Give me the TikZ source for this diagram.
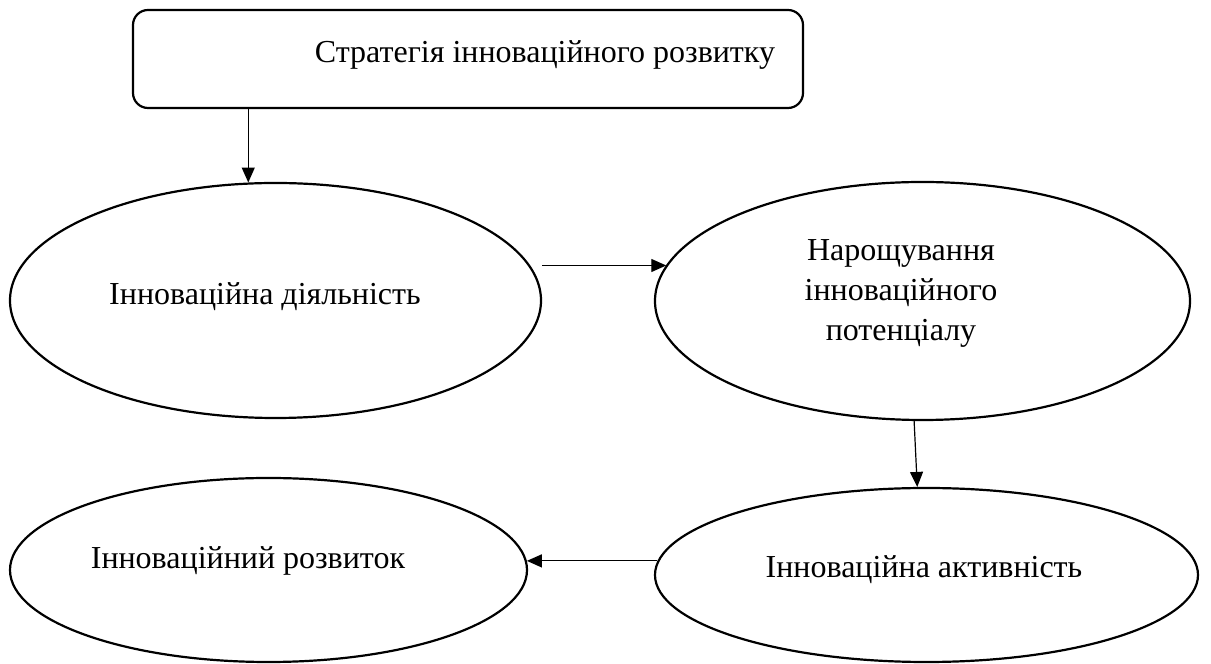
\documentclass[tikz,border=0pt]{standalone}
\usepackage{fontspec}
\setmainfont{Liberation Serif}
\usetikzlibrary{shapes.geometric,arrows.meta}
\begin{document}
\begin{tikzpicture}[x=1pt,y=1pt,
  oval/.style={draw, ellipse, line width=2.2pt, inner sep=0pt},
  frame/.style={draw, rounded corners=15pt, line width=2.2pt, inner sep=0pt},
  lbl/.style={font=\fontsize{32}{40}\selectfont, inner sep=0pt, align=center},
  link/.style={line width=1.2pt, -{Triangle[length=15pt,width=13pt]}},
]
\useasboundingbox (0,0) rectangle (1211,664);

% top box
\node[frame, minimum width=670pt, minimum height=98pt] (top) at (468,605) {};
\node[lbl, anchor=base] (ttop) at (545,601) {Стратегія інноваційного розвитку};

% ovals
\node[oval, minimum width=531pt, minimum height=235pt] (e1) at (275.5,363.5) {};
\node[oval, minimum width=535pt, minimum height=238pt] (e2) at (922.5,363) {};
\node[oval, minimum width=543pt, minimum height=174pt] (e3) at (926.5,89) {};
\node[oval, minimum width=517pt, minimum height=184pt] (e4) at (268.5,94) {};

\node[lbl, anchor=base] (t1) at (265,359) {Інноваційна діяльність};
\node[lbl] (t2) at (901,371) {Нарощування\\інноваційного\\потенціалу};
\node[lbl, anchor=base] (t3) at (924,86) {Інноваційна активність};
\node[lbl, anchor=base] (t4) at (248,95) {Інноваційний розвиток};

% connectors
\draw[link] (top.south -| e1.103) -- (e1.103);
\draw[link] ([yshift=35pt]e1.east) -- ([yshift=35pt]e1.east -| e2.172);
\draw[link] (e2.266) -- (e3.96);
\draw[link] (e3.177) -- (e3.177 -| e4.2);
\end{tikzpicture}
\end{document}
